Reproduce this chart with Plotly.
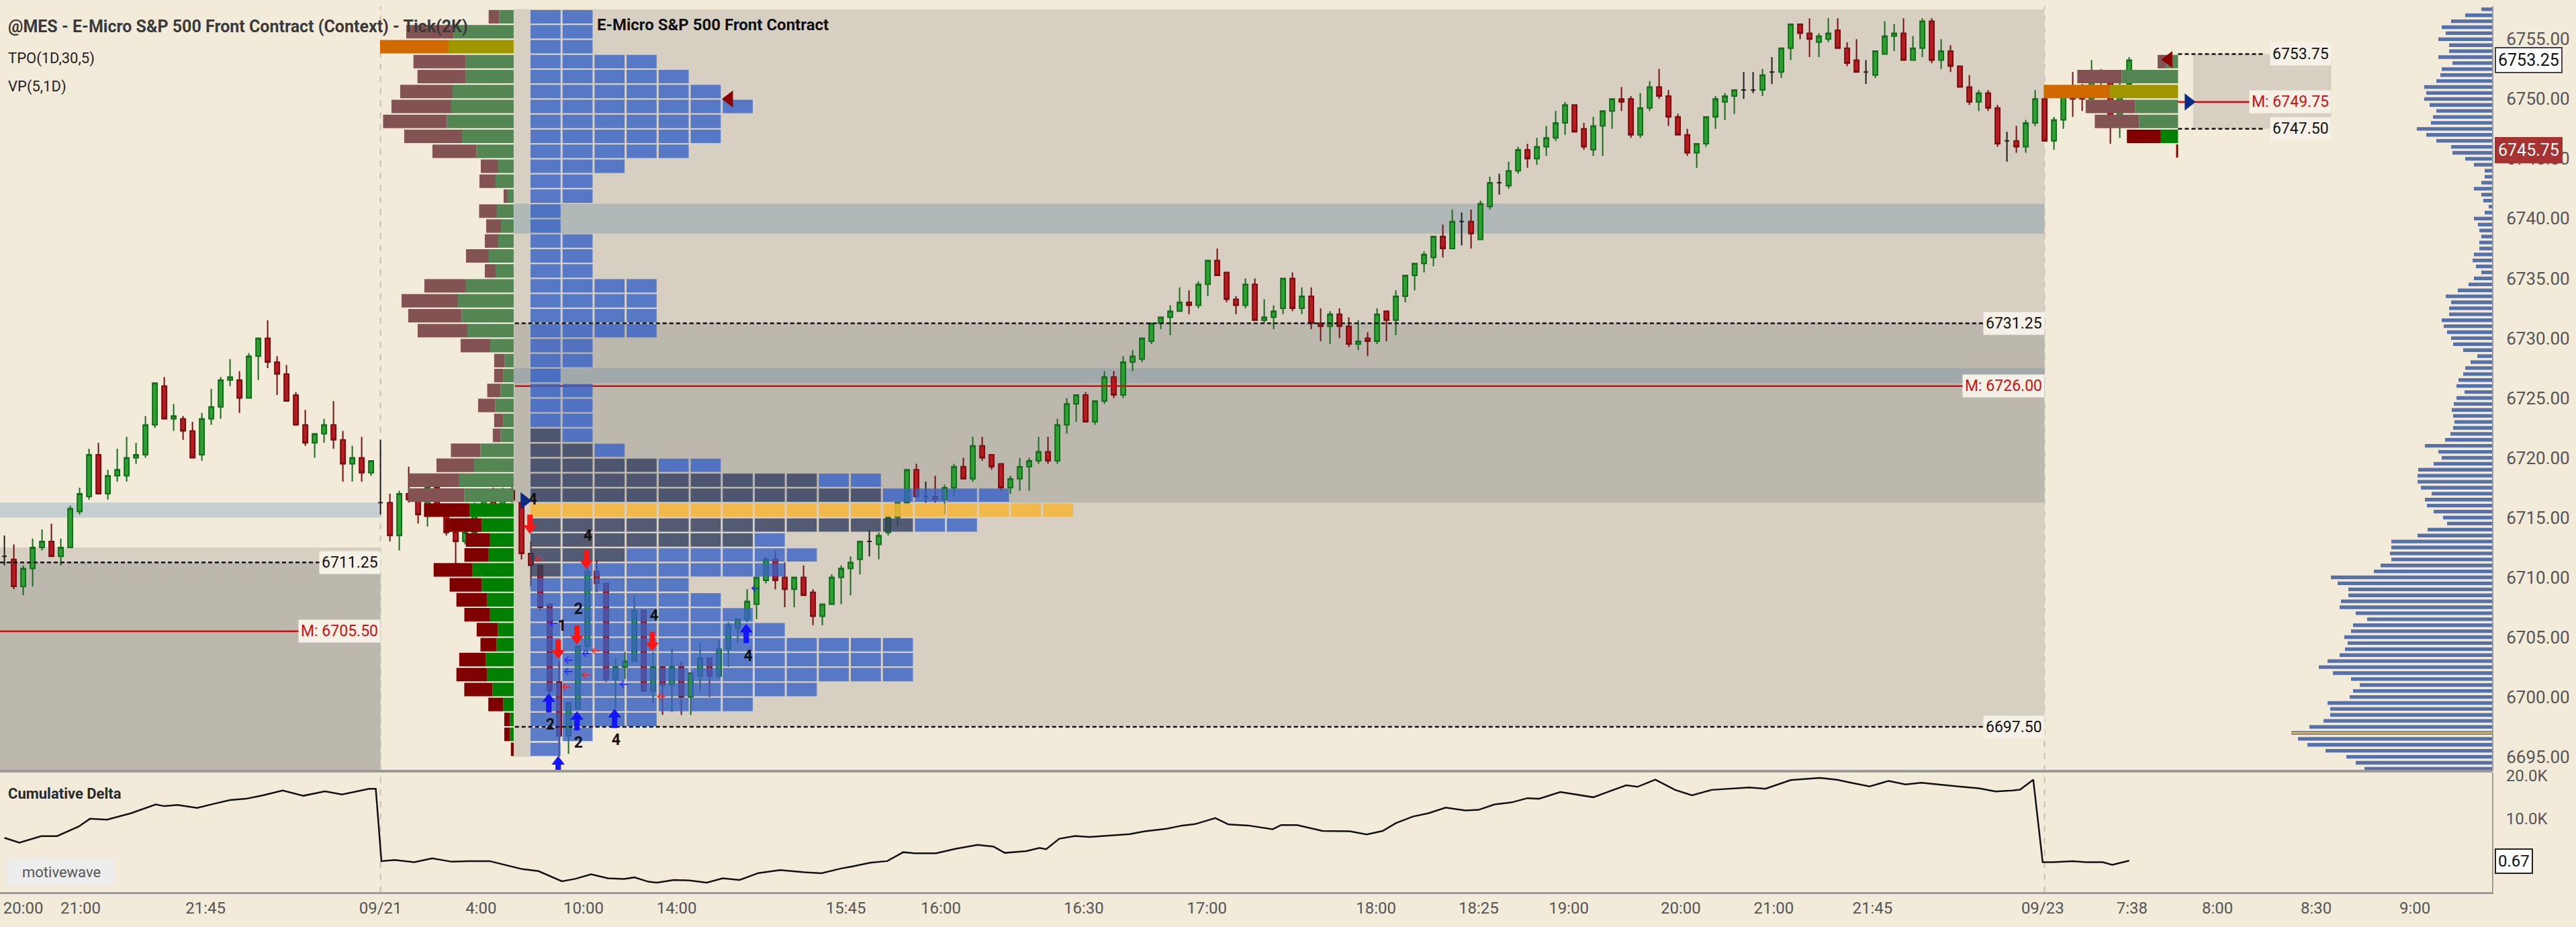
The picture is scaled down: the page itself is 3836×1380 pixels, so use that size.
import plotly.graph_objects as go

# --- MES tick(2K) bars, one entry per bar (index = bar number) ---
bar_open = [
    6711.75, 6711.5, 6709.25, 6710.75, 6712.5, 6713.0, 6711.75, 6712.5, 6715.5, 6716.75,
    6720.25, 6717.0, 6718.5, 6718.5, 6720.0, 6720.25, 6722.75, 6726.0, 6723.25, 6723.25,
    6722.25, 6720.25, 6723.25, 6724.25, 6726.5, 6726.5, 6725.0, 6728.5, 6730.0, 6728.0,
    6727.0, 6725.25, 6722.75, 6721.25, 6722.0, 6722.75, 6721.5, 6719.5, 6720.0, 6718.75,
    6716.25, 6716.25, 6713.5, 6717.0, 6716.5, 6715.25, 6717.5, 6715.25, 6713.75, 6713.0,
    6713.75, 6716.0, 6717.0, 6716.0, 6717.25, 6716.25, 6712.0, 6711.0, 6707.75, 6701.25,
    6696.75, 6699.0, 6704.25, 6710.5, 6709.5, 6701.5, 6702.5, 6703.0, 6707.25, 6700.5,
    6702.5, 6701.0, 6702.5, 6700.0, 6701.75, 6703.25, 6701.75, 6704.0, 6705.75, 6706.5,
    6707.75, 6709.75, 6711.5, 6710.0, 6709.0, 6710.0, 6708.75, 6706.75, 6707.75, 6710.0,
    6710.75, 6711.5, 6713.0, 6712.75, 6713.75, 6715.0, 6716.25, 6719.0, 6716.75, 6716.75,
    6716.5, 6717.5, 6719.25, 6718.25, 6721.0, 6720.25, 6719.5, 6717.5, 6718.25, 6719.25,
    6719.75, 6720.5, 6719.75, 6722.75, 6724.5, 6725.25, 6723.0, 6724.75, 6726.75, 6725.25,
    6728.0, 6728.25, 6729.75, 6731.25, 6731.75, 6732.25, 6733.0, 6732.75, 6734.5, 6736.5,
    6735.5, 6733.25, 6732.75, 6734.5, 6731.5, 6731.75, 6732.5, 6735.0, 6732.5, 6733.5,
    6731.25, 6731.0, 6732.0, 6731.0, 6729.5, 6730.0, 6729.75, 6732.25, 6731.5, 6733.5,
    6735.25, 6736.25, 6736.75, 6738.5, 6737.5, 6739.75, 6739.75, 6738.25, 6741.0, 6743.0,
    6742.75, 6744.0, 6745.75, 6745.0, 6746.0, 6746.75, 6748.0, 6749.5, 6747.5, 6745.75,
    6747.75, 6749.0, 6750.0, 6750.0, 6747.0, 6749.25, 6751.0, 6750.25, 6748.5, 6747.0,
    6745.5, 6746.25, 6748.5, 6749.75, 6750.25, 6750.75, 6750.75, 6750.75, 6752.25, 6752.25,
    6754.25, 6756.25, 6755.5, 6754.75, 6755.0, 6755.75, 6754.25, 6753.25, 6752.25, 6752.0,
    6753.75, 6755.25, 6755.5, 6753.25, 6754.25, 6756.5, 6753.25, 6754.0, 6752.75, 6751.0,
    6749.75, 6750.5, 6749.25, 6746.5, 6746.5, 6746.0, 6748.0, 6750.0, 6746.5, 6748.25,
    6751.0, 6750.5, 6750.0, 6751.5, 6751.5, 6748.0, 6751.25,
]
bar_high = [
    6713.5, 6712.75, 6711.0, 6713.25, 6714.0, 6714.5, 6713.25, 6716.0, 6717.5, 6720.75,
    6721.25, 6719.0, 6720.75, 6721.75, 6721.25, 6723.5, 6726.25, 6726.75, 6724.5, 6723.5,
    6723.0, 6723.75, 6725.75, 6726.75, 6728.25, 6727.25, 6728.75, 6730.0, 6731.5, 6728.5,
    6727.75, 6725.5, 6724.0, 6722.0, 6723.25, 6724.75, 6722.25, 6721.0, 6721.75, 6719.75,
    6721.5, 6717.0, 6717.25, 6719.25, 6716.75, 6718.0, 6718.25, 6715.75, 6714.0, 6714.25,
    6716.25, 6717.25, 6717.5, 6717.5, 6717.75, 6717.0, 6713.0, 6711.0, 6707.75, 6703.0,
    6699.5, 6704.25, 6711.5, 6711.5, 6709.5, 6703.25, 6703.75, 6708.5, 6707.25, 6703.75,
    6702.5, 6704.0, 6703.0, 6702.0, 6704.5, 6703.25, 6704.75, 6706.25, 6706.5, 6709.0,
    6710.0, 6711.75, 6712.25, 6711.25, 6710.0, 6711.0, 6709.0, 6707.75, 6710.25, 6711.0,
    6711.75, 6713.0, 6714.0, 6713.75, 6715.25, 6716.25, 6719.0, 6719.5, 6718.0, 6718.5,
    6717.75, 6719.5, 6720.0, 6721.75, 6721.75, 6720.25, 6719.5, 6718.5, 6720.0, 6720.0,
    6721.75, 6721.75, 6723.25, 6725.0, 6725.25, 6725.5, 6724.75, 6727.25, 6727.25, 6728.5,
    6729.0, 6730.0, 6731.25, 6731.75, 6732.75, 6734.25, 6734.0, 6734.75, 6736.5, 6737.5,
    6735.5, 6733.5, 6735.0, 6735.0, 6733.25, 6732.75, 6735.0, 6735.5, 6734.25, 6734.25,
    6732.5, 6732.25, 6732.5, 6731.75, 6731.5, 6730.5, 6732.5, 6732.25, 6734.0, 6735.25,
    6736.25, 6737.25, 6738.5, 6739.5, 6740.75, 6740.5, 6740.75, 6741.5, 6743.5, 6743.75,
    6744.75, 6746.0, 6746.25, 6746.75, 6747.75, 6749.0, 6749.75, 6749.5, 6748.0, 6748.5,
    6749.0, 6750.0, 6751.0, 6750.25, 6750.5, 6751.5, 6752.5, 6750.75, 6748.75, 6747.5,
    6746.25, 6748.5, 6750.25, 6750.5, 6750.75, 6752.25, 6752.25, 6752.5, 6753.5, 6754.25,
    6756.25, 6756.25, 6756.75, 6755.5, 6756.75, 6756.75, 6754.75, 6755.0, 6753.25, 6754.0,
    6756.5, 6756.25, 6756.75, 6755.25, 6756.75, 6756.75, 6755.0, 6754.5, 6752.75, 6752.0,
    6750.75, 6750.75, 6749.5, 6747.25, 6747.75, 6748.25, 6750.75, 6750.0, 6748.5, 6750.25,
    6752.25, 6751.25, 6753.25, 6752.5, 6752.0, 6751.5, 6753.5,
]
bar_low = [
    6711.0, 6709.0, 6708.5, 6709.25, 6712.25, 6711.75, 6711.0, 6712.5, 6715.25, 6716.5,
    6717.0, 6716.5, 6718.0, 6718.0, 6719.5, 6720.0, 6722.5, 6723.25, 6722.25, 6721.5,
    6720.0, 6719.75, 6722.75, 6723.25, 6726.0, 6723.75, 6725.0, 6726.5, 6727.5, 6725.25,
    6724.75, 6722.75, 6721.0, 6720.0, 6721.25, 6720.75, 6718.0, 6718.0, 6718.0, 6718.5,
    6715.25, 6713.0, 6712.25, 6716.25, 6714.5, 6714.25, 6715.5, 6713.5, 6710.75, 6712.75,
    6713.5, 6715.5, 6715.75, 6715.5, 6716.25, 6711.5, 6709.25, 6707.25, 6700.25, 6695.0,
    6695.25, 6699.0, 6703.5, 6708.75, 6701.25, 6699.0, 6701.5, 6703.0, 6700.5, 6699.5,
    6698.5, 6698.75, 6698.5, 6698.5, 6700.5, 6700.0, 6701.5, 6702.5, 6704.5, 6706.25,
    6706.5, 6709.5, 6709.0, 6707.5, 6707.5, 6708.5, 6706.0, 6706.0, 6707.75, 6707.75,
    6708.5, 6710.25, 6711.75, 6711.5, 6713.5, 6714.25, 6716.0, 6716.75, 6716.25, 6716.25,
    6715.25, 6716.75, 6718.25, 6718.0, 6719.75, 6719.0, 6717.25, 6717.0, 6717.25, 6717.25,
    6719.5, 6719.5, 6719.5, 6722.0, 6723.0, 6723.0, 6722.75, 6724.5, 6725.0, 6725.0,
    6727.25, 6728.0, 6729.5, 6730.75, 6730.25, 6732.25, 6732.0, 6732.5, 6733.5, 6735.25,
    6733.0, 6732.0, 6732.5, 6731.5, 6731.25, 6730.75, 6732.0, 6732.25, 6732.0, 6730.75,
    6729.75, 6729.5, 6730.0, 6729.25, 6729.0, 6728.5, 6729.5, 6729.75, 6730.25, 6733.0,
    6734.0, 6735.5, 6736.0, 6736.75, 6737.5, 6737.75, 6737.5, 6738.25, 6740.75, 6742.0,
    6742.5, 6743.75, 6744.25, 6744.5, 6745.25, 6746.5, 6747.0, 6747.25, 6745.75, 6745.25,
    6745.25, 6747.5, 6749.0, 6746.75, 6746.75, 6749.0, 6750.0, 6747.75, 6747.0, 6745.25,
    6744.25, 6746.0, 6747.5, 6748.25, 6748.75, 6750.0, 6750.5, 6750.25, 6751.25, 6751.75,
    6753.25, 6755.0, 6753.5, 6753.5, 6754.75, 6754.25, 6752.75, 6752.25, 6751.25, 6751.75,
    6753.75, 6754.0, 6753.25, 6753.25, 6753.5, 6753.0, 6752.5, 6752.25, 6751.0, 6749.5,
    6749.0, 6749.0, 6746.0, 6744.75, 6745.5, 6745.5, 6747.75, 6746.5, 6745.75, 6747.5,
    6748.5, 6749.0, 6749.75, 6750.5, 6746.25, 6746.75, 6751.25,
]
bar_close = [
    6711.75, 6709.25, 6710.75, 6712.5, 6713.0, 6711.75, 6712.5, 6715.75, 6717.0, 6720.25,
    6717.0, 6718.5, 6719.0, 6720.0, 6720.25, 6722.75, 6726.25, 6723.25, 6723.5, 6722.25,
    6720.0, 6723.25, 6724.25, 6726.5, 6726.75, 6725.0, 6728.5, 6730.0, 6728.0, 6727.0,
    6724.75, 6722.75, 6721.25, 6722.0, 6722.75, 6721.5, 6719.5, 6720.0, 6718.75, 6719.75,
    6716.25, 6713.5, 6717.0, 6716.5, 6715.25, 6717.5, 6715.75, 6713.75, 6713.0, 6713.75,
    6716.0, 6717.0, 6716.0, 6717.25, 6716.5, 6712.0, 6711.0, 6707.5, 6700.5, 6696.75,
    6699.5, 6704.25, 6710.5, 6709.5, 6701.5, 6702.5, 6703.0, 6707.25, 6700.5, 6702.5,
    6701.0, 6702.5, 6700.0, 6702.0, 6703.25, 6701.75, 6704.0, 6706.0, 6706.5, 6708.0,
    6710.0, 6711.5, 6709.75, 6709.0, 6710.0, 6708.5, 6706.75, 6707.75, 6710.0, 6710.75,
    6711.25, 6713.0, 6713.0, 6713.5, 6715.0, 6716.25, 6719.0, 6716.75, 6716.75, 6716.5,
    6717.5, 6719.25, 6718.25, 6721.0, 6720.0, 6719.25, 6717.5, 6718.25, 6719.25, 6719.75,
    6720.5, 6719.75, 6722.75, 6724.5, 6725.25, 6723.0, 6724.75, 6726.75, 6725.25, 6728.0,
    6728.5, 6730.0, 6731.25, 6731.75, 6732.25, 6733.0, 6732.75, 6734.5, 6736.5, 6735.25,
    6733.25, 6732.75, 6734.5, 6731.5, 6731.75, 6732.25, 6735.0, 6732.5, 6733.5, 6731.25,
    6731.0, 6732.0, 6731.0, 6729.5, 6729.75, 6729.75, 6732.0, 6731.5, 6733.5, 6735.25,
    6736.25, 6737.0, 6738.5, 6737.5, 6739.75, 6739.75, 6738.75, 6741.25, 6743.0, 6743.0,
    6744.0, 6745.75, 6745.0, 6746.0, 6746.75, 6748.0, 6749.5, 6747.25, 6746.0, 6747.75,
    6749.0, 6750.0, 6749.75, 6747.0, 6749.25, 6751.0, 6750.25, 6748.5, 6747.0, 6745.5,
    6746.25, 6748.5, 6750.0, 6750.25, 6750.75, 6750.75, 6750.75, 6752.0, 6752.25, 6754.25,
    6756.25, 6755.5, 6755.0, 6755.25, 6755.5, 6754.25, 6753.0, 6752.25, 6752.25, 6754.0,
    6755.25, 6755.5, 6753.25, 6754.25, 6756.5, 6753.25, 6754.0, 6752.75, 6751.0, 6749.75,
    6750.5, 6749.25, 6746.25, 6746.5, 6746.0, 6748.0, 6750.0, 6746.5, 6748.25, 6750.25,
    6750.0, 6750.0, 6751.5, 6752.0, 6748.0, 6751.0, 6753.25,
]

# --- cumulative delta (bar position, thousands) ---
delta_bar = [
    0, 1.6, 3.9, 5.6, 7.9, 9.1, 10.9, 13.5, 16.1, 17.0, 18.4, 20.5, 22.2, 24.0, 25.7, 27.5,
    29.6, 31.8, 34.1, 35.9, 38.8, 39.5,
    40.1, 41.5, 43.6, 45.5, 47.6, 49.3, 51.6, 55.1, 56.8, 59.3, 60.7, 62.4, 64.2, 65.9,
    67.0, 68.5, 69.4, 71.2, 72.9, 74.7, 76.4, 78.2, 80.2, 82.5, 85.1, 86.9, 89.0, 90.4,
    92.1, 93.9, 95.6, 96.8, 99.1, 101.2, 103.5, 105.2, 106.4, 108.7, 110.1, 110.8, 112.2,
    113.9, 115.4, 117.5, 119.7, 121.3, 123.6, 125.3, 126.7, 128.8, 130.2, 132.3, 134.9,
    135.8, 137.5, 140.2, 143.1, 144.9, 146.6, 148.0, 149.8, 151.5, 153.3, 155.4, 156.8,
    158.5, 160.3, 162.0, 163.2, 165.5, 169.0, 170.7, 172.5, 173.7, 175.6, 177.7, 179.5,
    181.6, 183.8, 185.6, 187.3, 190.0, 193.1, 194.9, 196.6, 198.4, 200.4, 202.2, 203.9,
    206.0, 207.8, 210.0, 211.8, 213.6, 214.4, 215.8,
    216.8, 217.9, 220.0, 221.4, 223.2, 224.2, 226.0,
]
delta_k = [
    5.6, 4.5, 6.0, 6.0, 8.2, 10.0, 9.8, 11.3, 13.3, 12.9, 13.2, 12.5, 13.4, 14.3, 14.6, 15.4,
    16.5, 15.3, 16.3, 15.6, 16.9, 16.9,
    0.25, 0.5, 0.0, 0.9, 0.1, 0.25, 0.25, -1.6, -2.05, -4.4, -3.85, -2.8, -3.7, -3.85,
    -3.5, -4.5, -4.7, -4.1, -4.2, -4.7, -3.7, -4.1, -2.5, -1.8, -2.3, -2.55, -1.45, -0.9,
    -0.1, 0.25, 2.3, 2.05, 2.05, 3.1, 4.0, 3.6, 2.15, 2.55, 3.3, 3.0, 5.4,
    6.05, 5.8, 6.15, 6.45, 7.1, 7.7, 8.45, 8.8, 10.15, 8.7, 8.45, 7.6,
    8.55, 8.55, 7.2, 7.1, 6.4, 7.2, 9.0, 10.5, 11.3, 12.55, 11.9, 12.05,
    13.3, 13.75, 14.75, 14.6, 16.15, 14.95, 16.3, 17.7, 17.35, 19.0, 16.65, 15.4,
    16.65, 17.0, 17.2, 16.9, 18.9, 19.4, 19.0, 18.2, 17.45, 18.7, 17.9, 18.3,
    17.9, 17.45, 17.0, 16.3, 16.5, 16.7, 19.0,
    0.0, 0.0, 0.25, 0.0, 0.0, -0.6, 0.35,
]

# --- time axis ---
tick_bar = [2.0, 8.1, 21.4, 40.0, 50.7, 61.6, 71.5, 89.5, 99.6, 114.8, 127.9, 145.9,
            156.8, 166.4, 178.3, 188.2, 198.7, 216.8, 226.3, 235.4, 245.9, 256.4]
tick_text = ["20:00", "21:00", "21:45", "09/21", "4:00", "10:00", "14:00", "15:45", "16:00",
             "16:30", "17:00", "18:00", "18:25", "19:00", "20:00", "21:00", "21:45", "09/23",
             "7:38", "8:00", "8:30", "9:00"]
price_ticks = [6695, 6700, 6705, 6710, 6715, 6720, 6725, 6730, 6735, 6740, 6745, 6750, 6755]

# --- 09/21 session profile: 1.25 pt rows (low edge of each row) ---
row_low = [
    6756.25, 6755.0, 6753.75, 6752.5, 6751.25, 6750.0, 6748.75, 6747.5, 6746.25, 6745.0,
    6743.75, 6742.5, 6741.25, 6740.0, 6738.75, 6737.5, 6736.25, 6735.0, 6733.75, 6732.5,
    6731.25, 6730.0, 6728.75, 6727.5, 6726.25, 6725.0, 6723.75, 6722.5, 6721.25, 6720.0,
    6718.75, 6717.5, 6716.25, 6715.0, 6713.75, 6712.5, 6711.25, 6710.0, 6708.75, 6707.5,
    6706.25, 6705.0, 6703.75, 6702.5, 6701.25, 6700.0, 6698.75, 6697.5, 6696.25, 6695.0,
]
tpo_count = [2, 2, 2, 4, 5, 6, 7, 6, 6, 5, 3, 2, 2, 1, 1, 2, 2, 2, 4, 4, 4, 4, 2, 2, 1,
             2, 2, 2, 2, 3, 6, 11, 15, 17, 14, 8, 9, 8, 5, 6, 7, 8, 12, 12, 12, 9, 7, 4, 2, 1]
tpo_dark = [0, 0, 0, 0, 0, 0, 0, 0, 0, 0, 0, 0, 0, 0, 0, 0, 0, 0, 0, 0, 0, 0, 0, 0, 0,
            0, 0, 0, 1, 2, 4, 9, 11, 0, 12, 7, 3, 1, 0, 0, 0, 0, 0, 0, 0, 0, 0, 0, 0, 0]
vp_sell = [15.7, 70.5, 102, 78, 72, 78, 89, 95, 86, 65.5, 26, 24, 6, 26.5, 22, 20, 34, 16,
           62, 84, 79.6, 74, 44, 15.3, 13.8, 20, 25.5, 13.8, 11.7, 44, 56, 75.5, 83.6, 67.8,
           54.6, 36.2, 36.2, 58, 48, 46, 38.3, 31.6, 24, 39.8, 46, 42, 22.4, 8.4, 8.4, 4.2]
vp_buy = [21.6, 89.5, 97, 71.3, 71.3, 91, 93, 99.5, 77, 55.5, 23, 27, 9, 25, 19, 23, 37, 27,
          71, 83, 77.5, 69, 35, 13.8, 15.3, 19.4, 27.5, 15.3, 19.4, 49.5, 59, 81, 73.4, 65.8,
          47.4, 35.2, 37.2, 61.2, 47.4, 39.3, 35.2, 23.5, 25.5, 41.3, 39.3, 31.6, 15.4, 5.6,
          5.6, 0]

# --- 09/23 session profile ---
row_low_0923 = [6752.5, 6751.25, 6750.0, 6748.75, 6747.5, 6746.25]
vp_sell_0923 = [12.8, 66, 97, 73.6, 66, 50.6]
vp_buy_0923 = [17.6, 84, 103, 64, 58, 25.6]

# --- composite volume profile next to the price scale ---
rvp_price = [
    6757.5, 6757.0, 6756.5, 6756.0, 6755.5, 6755.0, 6754.5, 6754.0,
    6753.5, 6753.0, 6752.5, 6752.0, 6751.5, 6751.0, 6750.5, 6750.0,
    6749.5, 6749.0, 6748.5, 6748.0, 6747.5, 6747.0, 6746.5, 6746.0,
    6745.5, 6745.0, 6744.5, 6744.0, 6743.5, 6743.0, 6742.5, 6742.0,
    6741.5, 6741.0, 6740.5, 6740.0, 6739.5, 6739.0, 6738.5, 6738.0,
    6737.5, 6737.0, 6736.5, 6736.0, 6735.5, 6735.0, 6734.5, 6734.0,
    6733.5, 6733.0, 6732.5, 6732.0, 6731.5, 6731.0, 6730.5, 6730.0,
    6729.5, 6729.0, 6728.5, 6728.0, 6727.5, 6727.0, 6726.5, 6726.0,
    6725.5, 6725.0, 6724.5, 6724.0, 6723.5, 6723.0, 6722.5, 6722.0,
    6721.5, 6721.0, 6720.5, 6720.0, 6719.5, 6719.0, 6718.5, 6718.0,
    6717.5, 6717.0, 6716.5, 6716.0, 6715.5, 6715.0, 6714.5, 6714.0,
    6713.5, 6713.0, 6712.5, 6712.0, 6711.5, 6711.0, 6710.5, 6710.0,
    6709.5, 6709.0, 6708.5, 6708.0, 6707.5, 6707.0, 6706.5, 6706.0,
    6705.5, 6705.0, 6704.5, 6704.0, 6703.5, 6703.0, 6702.5, 6702.0,
    6701.5, 6701.0, 6700.5, 6700.0, 6699.5, 6699.0, 6698.5, 6698.0,
    6697.5, 6697.0, 6696.5, 6696.0, 6695.5, 6695.0, 6694.5, 6694.0,
]
rvp_vol = [
    16, 40, 61, 75, 69, 80, 64, 64,
    80, 59, 75, 77, 83, 101, 98, 101,
    93, 83, 88, 91, 112, 98, 83, 61,
    59, 40, 27, 11, 11, 16, 27, 16,
    13, 5, 11, 27, 21, 19, 16, 19,
    19, 27, 29, 24, 16, 27, 35, 51,
    69, 61, 64, 64, 75, 72, 67, 61,
    58, 43, 22, 32, 40, 43, 50, 53,
    41, 53, 57, 60, 58, 56, 58, 62,
    70, 100, 80, 75, 87, 110, 111, 111,
    106, 90, 100, 97, 87, 73, 67, 96,
    111, 150, 150, 152, 150, 166, 176, 240,
    230, 214, 214, 225, 227, 203, 186, 207,
    210, 220, 215, 219, 227, 245, 258, 237,
    210, 197, 207, 212, 245, 241, 241, 251,
    272, 299, 289, 275, 248, 217, 203, 190,
]
rvp_poc = 6697.0

# --- levels (price, from bar, to bar, label end) ---
dash_price = [6711.25, 6731.25, 6697.5, 6753.75, 6747.5]
dash_from = [-0.47, 54.3, 54.3, 231.2, 231.2]
dash_to = [40.0, 217.0, 217.0, 240.4, 240.4]
dash_label_end = [40.0, 217.0, 217.0, 247.5, 247.5]
mid_price = [6705.5, 6726.0, 6749.75]
mid_from = [-0.47, 54.3, 228.4]
mid_to = [40.0, 217.0, 240.4]
mid_label_end = [40.0, 217.0, 247.5]

# --- signal markers ---
down_bar = [55.9, 61.9, 60.9, 58.9, 68.9]
down_price = [6714.4, 6711.45, 6705.15, 6703.95, 6704.6]
up_bar = [57.9, 60.9, 64.9, 78.9, 58.9]
up_price = [6699.55, 6698.05, 6698.25, 6705.35, 6694.3]
num_bar = [56.2, 62.05, 69.1, 79.1, 65.05, 61.05, 58.05, 61.05, 59.3]
num_price = [6716.4, 6713.4, 6706.7, 6703.35, 6696.3, 6707.25, 6697.6, 6696.1, 6705.85]
num_text = ["4", "4", "4", "4", "4", "2", "2", "2", "1"]
red_tick_bar = [56.9, 62.9, 61.9, 59.8, 69.9]
red_tick_price = [6711.5, 6703.8, 6701.8, 6700.8, 6700.0]
blue_tick_bar = [79.9, 58.4, 60.0, 60.0, 61.9, 65.9]
blue_tick_price = [6709.05, 6706.1, 6703.05, 6702.05, 6703.6, 6701.0]
tri_left_bar = [77.1, 230.2]
tri_left_price = [6750.0, 6753.3]
tri_right_bar = [55.3, 232.3]
tri_right_price = [6716.4, 6749.75]
last_tick_bar = 231.1
last_tick_price = [6745.1, 6746.2]

# --- page geometry / styles ---
W, H = 3836, 1380
M_L, M_R, M_T, M_B = 0, 125, 2, 52
PW, PH = W - M_L - M_R, H - M_T - M_B
BAR_PX = 14.0     # screen px per bar
PT_PX = 17.9      # screen px per price point
X_RANGE = [-0.47, 264.6]
Y_RANGE = [6693.8, 6757.77]
D_RANGE = [-6.88, 20.66]
MAIN_DOM = [0.1365, 1]
DELTA_DOM = [0, 0.135]
ROW = 1.25
BG = "#F3EBDA"
GRAY = "#D6CFC2"
GRAY_DK = "#BDB8AE"
FONT = "Roboto, Inter, sans-serif"


def paper_xy(px, py):
    return (px - M_L) / PW, (M_T + PH - py) / PH


fig = go.Figure()

# --- background boxes ---
def box(x0, x1, y0, y1, color):
    fig.add_shape(type="rect", xref="x", yref="y", x0=x0, x1=x1, y0=y0, y1=y1,
                  fillcolor=color, line_width=0, layer="below")

box(X_RANGE[0], 40.0, Y_RANGE[0], 6712.5, GRAY)
box(X_RANGE[0], 40.0, Y_RANGE[0], 6711.25, GRAY_DK)
box(X_RANGE[0], 40.0, 6715.0, 6716.25, "#C5CFD2")
box(54.2, 56.0, 6695.0, 6757.5, GRAY)
box(54.2, 217.0, 6697.5, 6757.5, GRAY)
box(54.2, 217.0, 6716.25, 6731.25, GRAY_DK)
box(54.2, 217.0, 6738.75, 6741.25, "#B0B8B8")
box(54.2, 217.0, 6726.25, 6727.5, "#A2A9AA")
box(232.8, 247.5, 6747.5, 6753.75, GRAY)

for sx in [40.0, 217.0]:
    fig.add_shape(type="line", xref="x", yref="paper", x0=sx, x1=sx, y0=0, y1=1,
                  line=dict(color="#C6BFB2", width=2, dash="dash"), layer="below")

# --- candles ---
n = len(bar_open)
groups = [
    ([i for i in range(n) if bar_close[i] > bar_open[i]], "#2E9F33", "#1A6A1E"),
    ([i for i in range(n) if bar_close[i] < bar_open[i]], "#B31C20", "#741010"),
    ([i for i in range(n) if bar_close[i] == bar_open[i]], "#1E1E1E", "#1E1E1E"),
]
for ids, fill, line in groups:
    fig.add_trace(go.Candlestick(
        x=ids,
        open=[bar_open[i] for i in ids], high=[bar_high[i] for i in ids],
        low=[bar_low[i] for i in ids], close=[bar_close[i] for i in ids],
        increasing=dict(fillcolor=fill, line=dict(color=line, width=2)),
        decreasing=dict(fillcolor=fill, line=dict(color=line, width=2)),
        whiskerwidth=0, hoverinfo="skip", xaxis="x", yaxis="y"))


# --- level lines ---
def seg_trace(x0s, x1s, ys, color, dash):
    xs, yv = [], []
    for a, b, y in zip(x0s, x1s, ys):
        xs += [a, b, None]
        yv += [y, y, None]
    return go.Scatter(x=xs, y=yv, mode="lines", hoverinfo="skip", xaxis="x", yaxis="y",
                      line=dict(color=color, width=2.5, dash=dash))

fig.add_trace(seg_trace(dash_from, dash_to, dash_price, "#111111", "6px,4px"))
fig.add_trace(seg_trace(mid_from, mid_to, mid_price, "#CC1010", "solid"))


# --- volume profiles (overlay layer, above candles) ---
def profile(anchor, lows, sell, buy, poc_row, dark_from):
    ys, b_len, b_base, b_col, s_len, s_base, s_col = [], [], [], [], [], [], []
    for k, (lo, s, b) in enumerate(zip(lows, sell, buy)):
        if k == poc_row:
            sc, bc = "#D06A00", "#A09600"
        elif k >= dark_from:
            sc, bc = "#800000", "#008000"
        else:
            sc, bc = "#835252", "#538653"
        ys.append(lo + ROW / 2)
        b_len.append(b / BAR_PX)
        b_base.append(anchor - b / BAR_PX)
        b_col.append(bc)
        s_len.append(s / BAR_PX)
        s_base.append(anchor - (b + s) / BAR_PX)
        s_col.append(sc)
    for xl, xb, cl in [(b_len, b_base, b_col), (s_len, s_base, s_col)]:
        fig.add_trace(go.Bar(orientation="h", y=ys, x=xl, base=xb, width=ROW - 0.12,
                             marker=dict(color=cl, line_width=0), hoverinfo="skip",
                             xaxis="x2", yaxis="y2"))

profile(54.17, row_low, vp_sell, vp_buy, 2, 33)
profile(231.2, row_low_0923, vp_sell_0923, vp_buy_0923, 2, 5)

# TPO blocks
TPO_X0 = 55.96
TPO_W = 47.7 / BAR_PX
t_y, t_x, t_base, t_col = [], [], [], []
for k, (lo, nb, nd) in enumerate(zip(row_low, tpo_count, tpo_dark)):
    for j in range(nb):
        if k == 33:
            col = "rgba(246,180,56,0.86)"
        elif j < nd:
            col = "rgba(49,61,94,0.8)"
        else:
            col = "rgba(55,98,198,0.8)"
        t_y.append(lo + ROW / 2)
        t_base.append(TPO_X0 + j * TPO_W)
        t_x.append(TPO_W - 3 / BAR_PX)
        t_col.append(col)
fig.add_trace(go.Bar(orientation="h", y=t_y, x=t_x, base=t_base, width=ROW - 0.13,
                     marker=dict(color=t_col, line_width=0), hoverinfo="skip",
                     xaxis="x2", yaxis="y2"))

# composite profile at the price axis
fig.add_trace(go.Bar(orientation="h", y=rvp_price, x=rvp_vol, width=0.3,
                     marker=dict(color="#5670AA", line_width=0), hoverinfo="skip",
                     xaxis="x4", yaxis="y4"))
fig.add_trace(go.Scatter(x=[0, max(rvp_vol)], y=[rvp_poc, rvp_poc], mode="lines",
                         line=dict(color="#F2B33D", width=2.5), hoverinfo="skip",
                         xaxis="x4", yaxis="y4"))


# --- signals (top layer): block arrows = shaft + head ---
def block_arrows(bars, prices, color, pointing_down):
    sgn = 1 if pointing_down else -1
    shaft_y = [p + sgn * 6 / PT_PX for p in prices]
    head_y = [p - sgn * 5 / PT_PX for p in prices]
    fig.add_trace(go.Scatter(x=bars, y=shaft_y, mode="markers", hoverinfo="skip",
                             marker=dict(symbol="line-ns", size=13,
                                         line=dict(color=color, width=8)),
                             xaxis="x3", yaxis="y3"))
    fig.add_trace(go.Scatter(x=bars, y=head_y, mode="markers", hoverinfo="skip",
                             marker=dict(symbol="triangle-down" if pointing_down else "triangle-up",
                                         size=17, color=color, line_width=0),
                             xaxis="x3", yaxis="y3"))

block_arrows(down_bar, down_price, "#FF1414", True)
block_arrows(up_bar, up_price, "#1414FF", False)

fig.add_trace(go.Scatter(x=red_tick_bar, y=red_tick_price, mode="text",
                         text=["←"] * len(red_tick_bar),
                         textfont=dict(size=17, color="#FF2020"), hoverinfo="skip",
                         xaxis="x3", yaxis="y3"))
fig.add_trace(go.Scatter(x=blue_tick_bar, y=blue_tick_price, mode="text",
                         text=["←"] * len(blue_tick_bar),
                         textfont=dict(size=17, color="#2020FF"), hoverinfo="skip",
                         xaxis="x3", yaxis="y3"))
fig.add_trace(go.Scatter(x=num_bar, y=num_price, mode="text",
                         text=["<b>" + t + "</b>" for t in num_text],
                         textfont=dict(size=23, color="#111111", family=FONT), hoverinfo="skip",
                         xaxis="x3", yaxis="y3"))
fig.add_trace(go.Scatter(x=tri_left_bar, y=tri_left_price, mode="markers", hoverinfo="skip",
                         marker=dict(symbol="triangle-left", size=22, color="#8B0000", line_width=0),
                         xaxis="x3", yaxis="y3"))
fig.add_trace(go.Scatter(x=tri_right_bar, y=tri_right_price, mode="markers", hoverinfo="skip",
                         marker=dict(symbol="triangle-right", size=22, color="#0B2C86", line_width=0),
                         xaxis="x3", yaxis="y3"))
fig.add_trace(go.Scatter(x=[last_tick_bar, last_tick_bar], y=last_tick_price, mode="lines",
                         line=dict(color="#8B0000", width=3), hoverinfo="skip",
                         xaxis="x3", yaxis="y3"))

# --- cumulative delta ---
fig.add_trace(go.Scatter(x=delta_bar, y=delta_k, mode="lines", hoverinfo="skip",
                         line=dict(color="#111111", width=2.5), xaxis="x", yaxis="y5"))

# --- level labels ---
for p, xe in zip(dash_price, dash_label_end):
    fig.add_annotation(x=xe, y=p, xref="x", yref="y", text=f"{p:.2f}", showarrow=False,
                       xanchor="right", yanchor="middle", bgcolor="#F6F1E7", borderpad=3,
                       font=dict(size=23, color="#111111", family=FONT))
for p, xe in zip(mid_price, mid_label_end):
    fig.add_annotation(x=xe, y=p, xref="x", yref="y", text=f"M: {p:.2f}", showarrow=False,
                       xanchor="right", yanchor="middle", bgcolor="#F6F1E7", borderpad=3,
                       font=dict(size=23, color="#CC1010", family=FONT))

# current price boxes on the axis
fig.add_annotation(x=1, y=bar_close[-1], xref="paper", yref="y", text=f"{bar_close[-1]:.2f}",
                   showarrow=False, xanchor="left", xshift=4, bgcolor="#FFFFFF",
                   bordercolor="#444444", borderwidth=2, borderpad=3,
                   font=dict(size=25, color="#111111", family=FONT))
fig.add_annotation(x=1, y=6745.75, xref="paper", yref="y", text="6745.75",
                   showarrow=False, xanchor="left", xshift=4, bgcolor="#A63232",
                   bordercolor="#A63232", borderwidth=2, borderpad=3,
                   font=dict(size=25, color="#FFFFFF", family=FONT))
fig.add_annotation(x=1, y=0.3, xref="paper", yref="y5", text="0.67",
                   showarrow=False, xanchor="left", xshift=4, bgcolor="#FFFFFF",
                   bordercolor="#222222", borderwidth=2, borderpad=3,
                   font=dict(size=24, color="#111111", family=FONT))


# --- panel texts ---
def note(px, py, text, size, color="#333333", anchor="left"):
    x, y = paper_xy(px, py)
    fig.add_annotation(x=x, y=y, xref="paper", yref="paper", text=text, showarrow=False,
                       xanchor=anchor, yanchor="middle",
                       font=dict(size=size, color=color, family=FONT))

note(10, 33, "<b>@MES - E-Micro S&P 500 Front Contract (Context) - Tick(2K)</b>", 25, "#3A3A3A")
note(10, 80, "TPO(1D,30,5)", 22, "#222222")
note(10, 123, "VP(5,1D)", 22, "#222222")
note(887, 30, "<b>E-Micro S&P 500 Front Contract</b>", 24, "#111111")
note(10, 1181, "<b>Cumulative Delta</b>", 22, "#2A2A2A")

mx0, my0 = paper_xy(10, 1318)
mx1, my1 = paper_xy(172, 1278)
fig.add_shape(type="rect", xref="paper", yref="paper", x0=mx0, x1=mx1, y0=my0, y1=my1,
              fillcolor="#EDEDED", line_width=0)
note(91, 1298, "motivewave", 22, "#555555", anchor="center")

# panel divider
fig.add_shape(type="line", xref="paper", yref="paper", x0=0, x1=1, y0=MAIN_DOM[0], y1=MAIN_DOM[0],
              line=dict(color="#9C9A96", width=4))

# --- axes ---
axis_font = dict(size=24, color="#555555", family=FONT)
fig.update_layout(
    width=W, height=H,
    margin=dict(l=M_L, r=M_R, t=M_T, b=M_B, pad=0),
    paper_bgcolor=BG, plot_bgcolor=BG,
    showlegend=False, barmode="overlay", hovermode=False,
    font=dict(family=FONT, color="#333333"),
    xaxis=dict(domain=[0, 1], range=X_RANGE, anchor="y5", tickmode="array",
               tickvals=tick_bar, ticktext=tick_text, showgrid=False, zeroline=False,
               showline=True, linecolor="#9C9A96", linewidth=3, ticks="",
               tickfont=axis_font, rangeslider=dict(visible=False), fixedrange=True),
    yaxis=dict(domain=MAIN_DOM, range=Y_RANGE, anchor="x", side="right", tickmode="array",
               tickvals=price_ticks, tickformat=".2f", showgrid=False, zeroline=False,
               showline=True, linecolor="#9C9A96", linewidth=2, ticks="",
               tickfont=dict(size=26, color="#555555", family=FONT), ticklabelstandoff=14,
               fixedrange=True),
    xaxis2=dict(overlaying="x", range=X_RANGE, visible=False, anchor="y2", fixedrange=True),
    yaxis2=dict(overlaying="y", range=Y_RANGE, visible=False, anchor="x2", fixedrange=True),
    xaxis3=dict(overlaying="x", range=X_RANGE, visible=False, anchor="y3", fixedrange=True),
    yaxis3=dict(overlaying="y", range=Y_RANGE, visible=False, anchor="x3", fixedrange=True),
    xaxis4=dict(overlaying="x", range=[PW, 0], visible=False, anchor="y4", fixedrange=True),
    yaxis4=dict(overlaying="y", range=Y_RANGE, visible=False, anchor="x4", fixedrange=True),
    yaxis5=dict(domain=DELTA_DOM, range=D_RANGE, anchor="x", side="right", tickmode="array",
                tickvals=[10, 20], ticktext=["10.0K", "20.0K"], showgrid=False,
                zeroline=False, showline=True, linecolor="#9C9A96", linewidth=2, ticks="",
                tickfont=axis_font, ticklabelstandoff=14, fixedrange=True),
)

fig.write_html("out.html", config={"displayModeBar": False},
               post_script="document.body.style.margin='0';")
